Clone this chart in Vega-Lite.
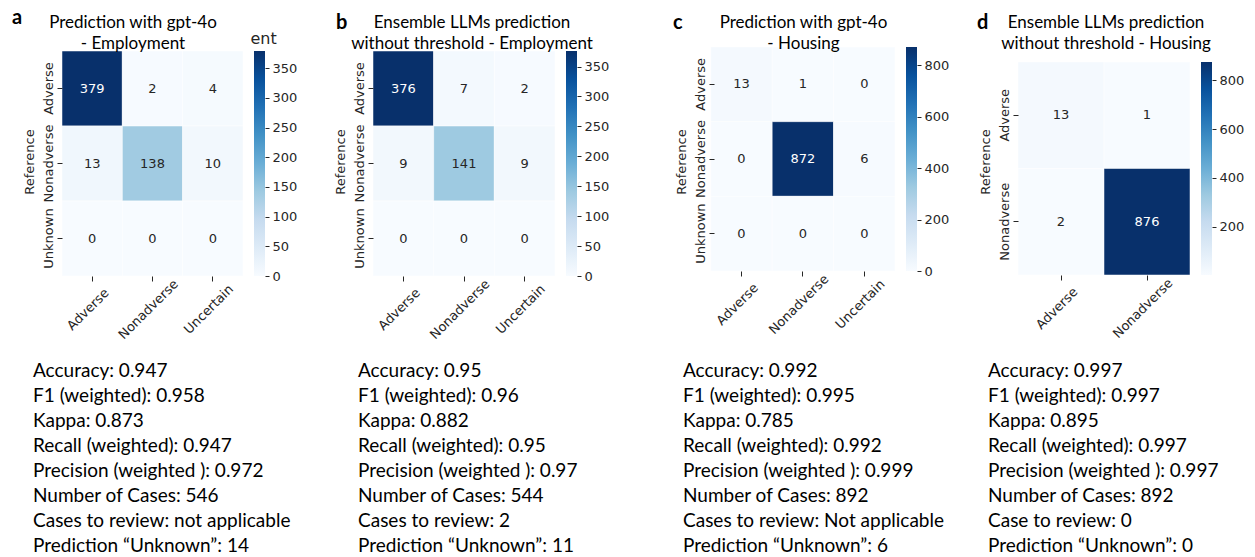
{
  "$schema": "https://vega.github.io/schema/vega-lite/v6.json",
  "background": "white",
  "padding": {"left": 12, "top": 8, "right": 5, "bottom": 5},
  "config": {
    "view": {"stroke": null},
    "axis": {"labelFont": "DejaVu Sans", "labelFontSize": 13, "labelColor": "#262626", "titleFont": "DejaVu Sans", "titleFontSize": 13, "titleFontWeight": "normal", "titleColor": "#262626", "tickColor": "#262626", "tickSize": 5, "domain": false, "grid": false},
    "title": {"font": "Lato", "fontSize": 17, "fontWeight": "normal", "color": "#000000", "lineHeight": 21, "baseline": "bottom"}
  },
  "spacing": 17,
  "resolve": {"scale": {"color": "independent"}},
  "vconcat": [
    {
      "bounds": "flush",
      "spacing": 11,
      "resolve": {"scale": {"color": "independent"}},
      "hconcat": [
        {
          "width": 210, "height": 229,
          "title": {"text": ["Prediction with gpt-4o", "- Employment"], "dx": -5, "offset": -6},
          "data": {"values": [
            {"ref": "Adverse", "pred": "Adverse", "n": 379}, {"ref": "Adverse", "pred": "Nonadverse", "n": 2}, {"ref": "Adverse", "pred": "Uncertain", "n": 4},
            {"ref": "Nonadverse", "pred": "Adverse", "n": 13}, {"ref": "Nonadverse", "pred": "Nonadverse", "n": 138}, {"ref": "Nonadverse", "pred": "Uncertain", "n": 10},
            {"ref": "Unknown", "pred": "Adverse", "n": 0}, {"ref": "Unknown", "pred": "Nonadverse", "n": 0}, {"ref": "Unknown", "pred": "Uncertain", "n": 0}
          ]},
          "encoding": {
            "x": {"field": "pred", "type": "nominal", "sort": ["Adverse", "Nonadverse", "Uncertain"], "scale": {"paddingInner": 0, "paddingOuter": 0.2403, "align": 1}, "axis": {"title": null, "labelAngle": -45, "labelAlign": "center", "labelBaseline": "middle", "labelPadding": 28, "labelOffset": -4}},
            "y": {"field": "ref", "type": "nominal", "sort": ["Adverse", "Nonadverse", "Unknown"], "scale": {"paddingInner": 0, "paddingOuter": 0.0267, "align": 1}, "axis": {"title": "Reference", "labelAngle": -90, "labelAlign": "center", "labelBaseline": "bottom", "labelPadding": 2, "titlePadding": 6, "offset": -29}}
          },
          "layer": [
            {"mark": {"type": "rect", "stroke": "white", "strokeWidth": 0.5},
             "encoding": {"color": {"field": "n", "type": "quantitative", "legend": null, "scale": {"domain": [0, 47.375, 94.75, 142.125, 189.5, 236.875, 284.25, 331.625, 379], "range": ["#f7fbff", "#deebf7", "#c6dbef", "#9ecae1", "#6baed6", "#4292c6", "#2171b5", "#08519c", "#08306b"], "interpolate": "rgb"}}}},
            {"mark": {"type": "text", "font": "DejaVu Sans", "fontSize": 13},
             "encoding": {"text": {"field": "n"}, "color": {"condition": {"test": "datum.n > 200", "value": "#ffffff"}, "value": "#262626"}}}
          ]
        },
        {
          "width": 11, "height": 229,
          "title": {"text": "a", "anchor": "start", "frame": "group", "dx": -242, "offset": 2, "fontSize": 20, "fontWeight": "bold"},
          "data": {"values": [{"lo": 0, "hi": 379}]},
          "mark": {"type": "rect", "fill": {"gradient": "linear", "x1": 0, "y1": 1, "x2": 0, "y2": 0, "stops": [{"offset": 0, "color": "#f7fbff"}, {"offset": 0.125, "color": "#deebf7"}, {"offset": 0.25, "color": "#c6dbef"}, {"offset": 0.375, "color": "#9ecae1"}, {"offset": 0.5, "color": "#6baed6"}, {"offset": 0.625, "color": "#4292c6"}, {"offset": 0.75, "color": "#2171b5"}, {"offset": 0.875, "color": "#08519c"}, {"offset": 1, "color": "#08306b"}]}},
          "encoding": {
            "y": {"field": "lo", "type": "quantitative", "scale": {"domain": [0, 385.7], "nice": false, "zero": false}, "axis": {"orient": "right", "values": [0, 50, 100, 150, 200, 250, 300, 350], "tickSize": 4, "labelPadding": 3, "title": "ent", "titleAngle": 0, "titleX": -15, "titleY": -4, "titleAlign": "left", "titleBaseline": "alphabetic", "titleFontSize": 16}},
            "y2": {"field": "hi"}
          }
        },
        {
          "width": 279, "height": 229,
          "title": {"text": ["Ensemble LLMs prediction", "without threshold - Employment"], "dx": 56.5, "offset": -6},
          "data": {"values": [
            {"ref": "Adverse", "pred": "Adverse", "n": 376}, {"ref": "Adverse", "pred": "Nonadverse", "n": 7}, {"ref": "Adverse", "pred": "Uncertain", "n": 2},
            {"ref": "Nonadverse", "pred": "Adverse", "n": 9}, {"ref": "Nonadverse", "pred": "Nonadverse", "n": 141}, {"ref": "Nonadverse", "pred": "Uncertain", "n": 9},
            {"ref": "Unknown", "pred": "Adverse", "n": 0}, {"ref": "Unknown", "pred": "Nonadverse", "n": 0}, {"ref": "Unknown", "pred": "Uncertain", "n": 0}
          ]},
          "encoding": {
            "x": {"field": "pred", "type": "nominal", "sort": ["Adverse", "Nonadverse", "Uncertain"], "scale": {"paddingInner": 0, "paddingOuter": 0.7995, "align": 1}, "axis": {"title": null, "labelAngle": -45, "labelAlign": "center", "labelBaseline": "middle", "labelPadding": 28, "labelOffset": -4}},
            "y": {"field": "ref", "type": "nominal", "sort": ["Adverse", "Nonadverse", "Unknown"], "scale": {"paddingInner": 0, "paddingOuter": 0.0267, "align": 1}, "axis": {"title": "Reference", "labelAngle": -90, "labelAlign": "center", "labelBaseline": "bottom", "labelPadding": 2, "titlePadding": 6, "offset": -97}}
          },
          "layer": [
            {"mark": {"type": "rect", "stroke": "white", "strokeWidth": 0.5},
             "encoding": {"color": {"field": "n", "type": "quantitative", "legend": null, "scale": {"domain": [0, 47, 94, 141, 188, 235, 282, 329, 376], "range": ["#f7fbff", "#deebf7", "#c6dbef", "#9ecae1", "#6baed6", "#4292c6", "#2171b5", "#08519c", "#08306b"], "interpolate": "rgb"}}}},
            {"mark": {"type": "text", "font": "DejaVu Sans", "fontSize": 13},
             "encoding": {"text": {"field": "n"}, "color": {"condition": {"test": "datum.n > 200", "value": "#ffffff"}, "value": "#262626"}}}
          ]
        },
        {
          "width": 11, "height": 229,
          "title": {"text": "b", "anchor": "start", "frame": "group", "dx": -230, "offset": 14, "fontSize": 20, "fontWeight": "bold"},
          "data": {"values": [{"lo": 0, "hi": 376}]},
          "mark": {"type": "rect", "fill": {"gradient": "linear", "x1": 0, "y1": 1, "x2": 0, "y2": 0, "stops": [{"offset": 0, "color": "#f7fbff"}, {"offset": 0.125, "color": "#deebf7"}, {"offset": 0.25, "color": "#c6dbef"}, {"offset": 0.375, "color": "#9ecae1"}, {"offset": 0.5, "color": "#6baed6"}, {"offset": 0.625, "color": "#4292c6"}, {"offset": 0.75, "color": "#2171b5"}, {"offset": 0.875, "color": "#08519c"}, {"offset": 1, "color": "#08306b"}]}},
          "encoding": {
            "y": {"field": "lo", "type": "quantitative", "scale": {"domain": [0, 382.7], "nice": false, "zero": false}, "axis": {"orient": "right", "values": [0, 50, 100, 150, 200, 250, 300, 350], "tickSize": 4, "labelPadding": 3, "title": null}},
            "y2": {"field": "hi"}
          }
        },
        {
          "width": 307, "height": 229,
          "title": {"text": ["Prediction with gpt-4o", "- Housing"], "dx": 62, "offset": -6},
          "data": {"values": [
            {"ref": "Adverse", "pred": "Adverse", "n": 13}, {"ref": "Adverse", "pred": "Nonadverse", "n": 1}, {"ref": "Adverse", "pred": "Uncertain", "n": 0},
            {"ref": "Nonadverse", "pred": "Adverse", "n": 0}, {"ref": "Nonadverse", "pred": "Nonadverse", "n": 872}, {"ref": "Nonadverse", "pred": "Uncertain", "n": 6},
            {"ref": "Unknown", "pred": "Adverse", "n": 0}, {"ref": "Unknown", "pred": "Nonadverse", "n": 0}, {"ref": "Unknown", "pred": "Uncertain", "n": 0}
          ]},
          "encoding": {
            "x": {"field": "pred", "type": "nominal", "sort": ["Adverse", "Nonadverse", "Uncertain"], "scale": {"paddingInner": 0, "paddingOuter": 1.0442, "align": 1}, "axis": {"title": null, "labelAngle": -45, "labelAlign": "center", "labelBaseline": "middle", "labelPadding": 28, "labelOffset": -4, "offset": -5}},
            "y": {"field": "ref", "type": "nominal", "sort": ["Adverse", "Nonadverse", "Unknown"], "scale": {"paddingInner": 0, "paddingOuter": 0.0334, "align": 0}, "axis": {"title": "Reference", "labelAngle": -90, "labelAlign": "center", "labelBaseline": "bottom", "labelPadding": 2, "titlePadding": 6, "offset": -126}}
          },
          "layer": [
            {"mark": {"type": "rect", "stroke": "white", "strokeWidth": 0.5},
             "encoding": {"color": {"field": "n", "type": "quantitative", "legend": null, "scale": {"domain": [0, 109, 218, 327, 436, 545, 654, 763, 872], "range": ["#f7fbff", "#deebf7", "#c6dbef", "#9ecae1", "#6baed6", "#4292c6", "#2171b5", "#08519c", "#08306b"], "interpolate": "rgb"}}}},
            {"mark": {"type": "text", "font": "DejaVu Sans", "fontSize": 13},
             "encoding": {"text": {"field": "n"}, "color": {"condition": {"test": "datum.n > 500", "value": "#ffffff"}, "value": "#262626"}}}
          ]
        },
        {
          "width": 11, "height": 229,
          "title": {"text": "c", "anchor": "start", "frame": "group", "dx": -233, "offset": 14, "fontSize": 20, "fontWeight": "bold"},
          "data": {"values": [{"lo": 0, "hi": 872}]},
          "mark": {"type": "rect", "fill": {"gradient": "linear", "x1": 0, "y1": 1, "x2": 0, "y2": 0, "stops": [{"offset": 0, "color": "#f7fbff"}, {"offset": 0.125, "color": "#deebf7"}, {"offset": 0.25, "color": "#c6dbef"}, {"offset": 0.375, "color": "#9ecae1"}, {"offset": 0.5, "color": "#6baed6"}, {"offset": 0.625, "color": "#4292c6"}, {"offset": 0.75, "color": "#2171b5"}, {"offset": 0.875, "color": "#08519c"}, {"offset": 1, "color": "#08306b"}]}},
          "encoding": {
            "y": {"field": "lo", "type": "quantitative", "scale": {"domain": [-19.46, 871.96], "nice": false, "zero": false}, "axis": {"orient": "right", "values": [0, 200, 400, 600, 800], "tickSize": 4, "labelPadding": 3, "title": null}},
            "y2": {"field": "hi"}
          }
        },
        {
          "width": 262, "height": 229,
          "title": {"text": ["Ensemble LLMs prediction", "without threshold - Housing"], "dx": 47, "offset": -6},
          "data": {"values": [
            {"ref": "Adverse", "pred": "Adverse", "n": 13}, {"ref": "Adverse", "pred": "Nonadverse", "n": 1},
            {"ref": "Nonadverse", "pred": "Adverse", "n": 2}, {"ref": "Nonadverse", "pred": "Nonadverse", "n": 876}
          ]},
          "encoding": {
            "x": {"field": "pred", "type": "nominal", "sort": ["Adverse", "Nonadverse"], "scale": {"paddingInner": 0, "paddingOuter": 0.5233, "align": 1}, "axis": {"title": null, "labelAngle": -45, "labelAlign": "center", "labelBaseline": "middle", "labelPadding": 28, "labelOffset": -4, "offset": -1}},
            "y": {"field": "ref", "type": "nominal", "sort": ["Adverse", "Nonadverse"], "scale": {"paddingInner": 0, "paddingOuter": 0.0751, "align": 0.9375}, "axis": {"title": "Reference", "labelAngle": -90, "labelAlign": "center", "labelBaseline": "bottom", "labelPadding": 2, "titlePadding": 6, "offset": -90}}
          },
          "layer": [
            {"mark": {"type": "rect", "stroke": "white", "strokeWidth": 0.5},
             "encoding": {"color": {"field": "n", "type": "quantitative", "legend": null, "scale": {"domain": [1, 110.375, 219.75, 329.125, 438.5, 547.875, 657.25, 766.625, 876], "range": ["#f7fbff", "#deebf7", "#c6dbef", "#9ecae1", "#6baed6", "#4292c6", "#2171b5", "#08519c", "#08306b"], "interpolate": "rgb"}}}},
            {"mark": {"type": "text", "font": "DejaVu Sans", "fontSize": 13},
             "encoding": {"text": {"field": "n"}, "color": {"condition": {"test": "datum.n > 500", "value": "#ffffff"}, "value": "#262626"}}}
          ]
        },
        {
          "width": 11, "height": 229,
          "title": {"text": "d", "anchor": "start", "frame": "group", "dx": -224, "offset": 14, "fontSize": 20, "fontWeight": "bold"},
          "data": {"values": [{"lo": 1, "hi": 876}]},
          "mark": {"type": "rect", "fill": {"gradient": "linear", "x1": 0, "y1": 1, "x2": 0, "y2": 0, "stops": [{"offset": 0, "color": "#f7fbff"}, {"offset": 0.125, "color": "#deebf7"}, {"offset": 0.25, "color": "#c6dbef"}, {"offset": 0.375, "color": "#9ecae1"}, {"offset": 0.5, "color": "#6baed6"}, {"offset": 0.625, "color": "#4292c6"}, {"offset": 0.75, "color": "#2171b5"}, {"offset": 0.875, "color": "#08519c"}, {"offset": 1, "color": "#08306b"}]}},
          "encoding": {
            "y": {"field": "lo", "type": "quantitative", "scale": {"domain": [-3.11, 937.6], "nice": false, "zero": false}, "axis": {"orient": "right", "values": [200, 400, 600, 800], "tickSize": 4, "labelPadding": 3, "title": null}},
            "y2": {"field": "hi"}
          }
        }
      ]
    },
    {
      "bounds": "flush",
      "spacing": 0,
      "hconcat": [
        {
          "width": 325, "height": 199,
          "data": {"values": [
            {"panel": "a", "line": 1, "label": "Accuracy: 0.947"},
            {"panel": "a", "line": 2, "label": "F1 (weighted): 0.958"},
            {"panel": "a", "line": 3, "label": "Kappa: 0.873"},
            {"panel": "a", "line": 4, "label": "Recall (weighted): 0.947"},
            {"panel": "a", "line": 5, "label": "Precision (weighted ): 0.972"},
            {"panel": "a", "line": 6, "label": "Number of Cases: 546"},
            {"panel": "a", "line": 7, "label": "Cases to review: not applicable"},
            {"panel": "a", "line": 8, "label": "Prediction “Unknown”: 14"}
          ]},
          "mark": {"type": "text", "align": "left", "baseline": "middle", "font": "Lato", "fontSize": 19, "color": "#000000"},
          "encoding": {
            "x": {"field": "panel", "type": "nominal", "axis": null, "bandPosition": 0, "scale": {"type": "band", "paddingInner": 0, "paddingOuter": 0}},
            "y": {"field": "line", "type": "ordinal", "axis": null},
            "text": {"field": "label"}
          }
        },
        {
          "width": 325, "height": 199,
          "data": {"values": [
            {"panel": "b", "line": 1, "label": "Accuracy: 0.95"},
            {"panel": "b", "line": 2, "label": "F1 (weighted): 0.96"},
            {"panel": "b", "line": 3, "label": "Kappa: 0.882"},
            {"panel": "b", "line": 4, "label": "Recall (weighted): 0.95"},
            {"panel": "b", "line": 5, "label": "Precision (weighted ): 0.97"},
            {"panel": "b", "line": 6, "label": "Number of Cases: 544"},
            {"panel": "b", "line": 7, "label": "Cases to review: 2"},
            {"panel": "b", "line": 8, "label": "Prediction “Unknown”: 11"}
          ]},
          "mark": {"type": "text", "align": "left", "baseline": "middle", "font": "Lato", "fontSize": 19, "color": "#000000"},
          "encoding": {
            "x": {"field": "panel", "type": "nominal", "axis": null, "bandPosition": 0, "scale": {"type": "band", "paddingInner": 0, "paddingOuter": 0}},
            "y": {"field": "line", "type": "ordinal", "axis": null},
            "text": {"field": "label"}
          }
        },
        {
          "width": 305, "height": 199,
          "data": {"values": [
            {"panel": "c", "line": 1, "label": "Accuracy: 0.992"},
            {"panel": "c", "line": 2, "label": "F1 (weighted): 0.995"},
            {"panel": "c", "line": 3, "label": "Kappa: 0.785"},
            {"panel": "c", "line": 4, "label": "Recall (weighted): 0.992"},
            {"panel": "c", "line": 5, "label": "Precision (weighted ): 0.999"},
            {"panel": "c", "line": 6, "label": "Number of Cases: 892"},
            {"panel": "c", "line": 7, "label": "Cases to review: Not applicable"},
            {"panel": "c", "line": 8, "label": "Prediction “Unknown”: 6"}
          ]},
          "mark": {"type": "text", "align": "left", "baseline": "middle", "font": "Lato", "fontSize": 19, "color": "#000000"},
          "encoding": {
            "x": {"field": "panel", "type": "nominal", "axis": null, "bandPosition": 0, "scale": {"type": "band", "paddingInner": 0, "paddingOuter": 0}},
            "y": {"field": "line", "type": "ordinal", "axis": null},
            "text": {"field": "label"}
          }
        },
        {
          "width": 265, "height": 199,
          "data": {"values": [
            {"panel": "d", "line": 1, "label": "Accuracy: 0.997"},
            {"panel": "d", "line": 2, "label": "F1 (weighted): 0.997"},
            {"panel": "d", "line": 3, "label": "Kappa: 0.895"},
            {"panel": "d", "line": 4, "label": "Recall (weighted): 0.997"},
            {"panel": "d", "line": 5, "label": "Precision (weighted ): 0.997"},
            {"panel": "d", "line": 6, "label": "Number of Cases: 892"},
            {"panel": "d", "line": 7, "label": "Case to review: 0"},
            {"panel": "d", "line": 8, "label": "Prediction “Unknown”: 0"}
          ]},
          "mark": {"type": "text", "align": "left", "baseline": "middle", "font": "Lato", "fontSize": 19, "color": "#000000"},
          "encoding": {
            "x": {"field": "panel", "type": "nominal", "axis": null, "bandPosition": 0, "scale": {"type": "band", "paddingInner": 0, "paddingOuter": 0}},
            "y": {"field": "line", "type": "ordinal", "axis": null},
            "text": {"field": "label"}
          }
        }
      ]
    }
  ]
}
